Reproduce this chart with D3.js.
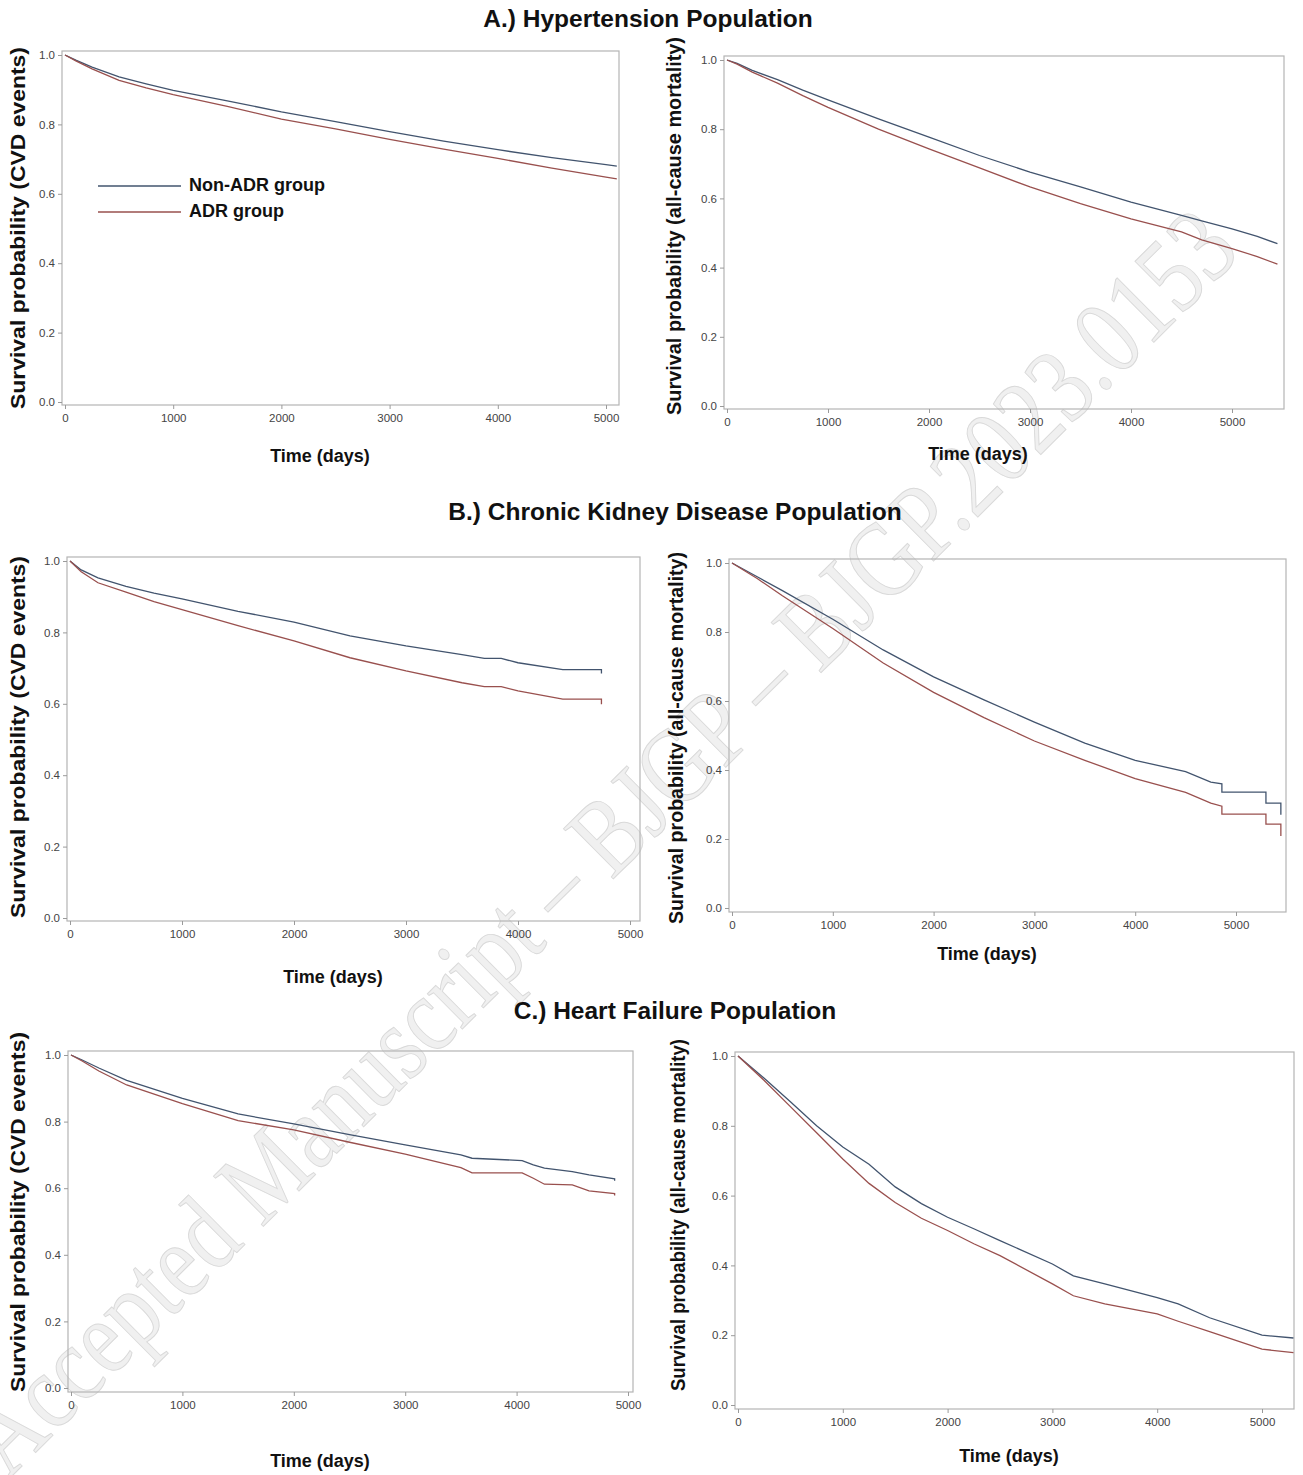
<!DOCTYPE html>
<html>
<head>
<meta charset="utf-8">
<script src="https://cdn.jsdelivr.net/npm/d3@7"></script>
<style>
  body { margin: 0; background: #fff; }
  svg { display: block; font-family: "Liberation Sans", Arial, sans-serif; }
</style>
</head>
<body>
<svg id="chart" width="1303" height="1475"></svg>
<script>
// Kaplan-Meier curves (days, survival probability)
const htnCvdDays = [0, 100, 250, 500, 750, 1000, 1500, 2000, 2500, 3000, 3500, 4000, 4500, 5000, 5100];
const htnCvdNonAdr = [1, 0.985, 0.965, 0.937, 0.917, 0.898, 0.868, 0.836, 0.808, 0.779, 0.752, 0.727, 0.704, 0.684, 0.680];
const htnCvdAdr = [1, 0.983, 0.960, 0.927, 0.905, 0.886, 0.852, 0.815, 0.787, 0.757, 0.729, 0.702, 0.674, 0.648, 0.643];

const htnMortDays = [0, 100, 250, 500, 750, 1000, 1500, 2000, 2500, 3000, 3500, 4000, 4500, 4700, 5000, 5250, 5450];
const htnMortNonAdr = [1, 0.990, 0.970, 0.943, 0.913, 0.885, 0.830, 0.777, 0.724, 0.676, 0.633, 0.589, 0.551, 0.535, 0.512, 0.490, 0.469];
const htnMortAdr = [1, 0.988, 0.965, 0.933, 0.897, 0.863, 0.800, 0.743, 0.688, 0.633, 0.585, 0.541, 0.503, 0.480, 0.455, 0.432, 0.410];

const ckdCvdDays = [0, 100, 250, 500, 750, 1000, 1500, 2000, 2500, 3000, 3500, 3700, 3850, 4000, 4400, 4745, 4745];
const ckdCvdNonAdr = [1, 0.975, 0.953, 0.929, 0.910, 0.894, 0.859, 0.829, 0.790, 0.762, 0.738, 0.727, 0.727, 0.715, 0.696, 0.696, 0.685];
const ckdCvdAdr = [1, 0.970, 0.939, 0.913, 0.886, 0.864, 0.819, 0.776, 0.729, 0.692, 0.659, 0.648, 0.648, 0.636, 0.613, 0.613, 0.599];

const ckdMortDays = [0, 250, 500, 1000, 1500, 2000, 2500, 3000, 3500, 4000, 4500, 4750, 4860, 4860, 5297, 5297, 5445, 5445];
const ckdMortNonAdr = [1, 0.960, 0.920, 0.837, 0.748, 0.670, 0.603, 0.539, 0.478, 0.428, 0.395, 0.365, 0.360, 0.336, 0.336, 0.304, 0.304, 0.270];
const ckdMortAdr = [1, 0.955, 0.905, 0.810, 0.710, 0.625, 0.552, 0.484, 0.428, 0.375, 0.335, 0.304, 0.295, 0.272, 0.272, 0.243, 0.243, 0.209];

const hfCvdDays = [0, 100, 250, 500, 1000, 1500, 2000, 2500, 3000, 3500, 3600, 4050, 4150, 4250, 4500, 4650, 4880, 4880];
const hfCvdNonAdr = [1, 0.985, 0.961, 0.924, 0.870, 0.823, 0.793, 0.761, 0.730, 0.700, 0.690, 0.683, 0.670, 0.660, 0.650, 0.640, 0.628, 0.622];
const hfCvdAdr = [1, 0.982, 0.952, 0.910, 0.854, 0.803, 0.775, 0.738, 0.702, 0.662, 0.646, 0.646, 0.630, 0.612, 0.610, 0.592, 0.584, 0.578];

const hfMortDays = [0, 250, 500, 750, 1000, 1250, 1500, 1750, 2000, 2250, 2500, 3000, 3200, 3500, 4000, 4200, 4500, 5000, 5300];
const hfMortNonAdr = [1, 0.936, 0.869, 0.800, 0.739, 0.690, 0.625, 0.577, 0.538, 0.505, 0.471, 0.404, 0.370, 0.347, 0.308, 0.290, 0.250, 0.200, 0.192];
const hfMortAdr = [1, 0.930, 0.855, 0.780, 0.705, 0.635, 0.580, 0.535, 0.500, 0.462, 0.428, 0.347, 0.313, 0.290, 0.261, 0.240, 0.210, 0.160, 0.150];

const xTicks = [0, 1000, 2000, 3000, 4000, 5000];
const yTicks = [0, 0.2, 0.4, 0.6, 0.8, 1.0];
const groupNames = ['Non-ADR group', 'ADR group'];
const groupColors = ['#42546e', '#99504e'];

const sectionTitles = [
  { text: 'A.) Hypertension Population', x: 648, y: 21 },
  { text: 'B.) Chronic Kidney Disease Population', x: 675, y: 514 },
  { text: 'C.) Heart Failure Population', x: 675, y: 1013 }
];

const cvdLabel = 'Survival probability (CVD events)';
const mortLabel = 'Survival probability (all-cause mortality)';

// layout of each panel: pixel for day 0 / day 5000, survival 1 / 0, frame box
const panels = [
  { days: htnCvdDays, non: htnCvdNonAdr, adr: htnCvdAdr, ylab: cvdLabel, ylabLen: 362, ylabY: 228,
    x0: 65, x5k: 606, y1: 55, y0: 402, frame: [62, 51, 619, 405], ylabX: 20, xlab: [320, 457], legend: true },
  { days: htnMortDays, non: htnMortNonAdr, adr: htnMortAdr, ylab: mortLabel, ylabLen: 378, ylabY: 226,
    x0: 727, x5k: 1232, y1: 60, y0: 406, frame: [724, 56, 1284, 409], ylabX: 676, xlab: [978, 455] },
  { days: ckdCvdDays, non: ckdCvdNonAdr, adr: ckdCvdAdr, ylab: cvdLabel, ylabLen: 362, ylabY: 737,
    x0: 70, x5k: 630, y1: 561, y0: 918, frame: [67, 557, 640, 921], ylabX: 20, xlab: [333, 978] },
  { days: ckdMortDays, non: ckdMortNonAdr, adr: ckdMortAdr, ylab: mortLabel, ylabLen: 372, ylabY: 738,
    x0: 732, x5k: 1236, y1: 563, y0: 908, frame: [729, 559, 1286, 912], ylabX: 678, xlab: [987, 955] },
  { days: hfCvdDays, non: hfCvdNonAdr, adr: hfCvdAdr, ylab: cvdLabel, ylabLen: 360, ylabY: 1212,
    x0: 71, x5k: 628, y1: 1055, y0: 1388, frame: [68, 1051, 633, 1392], ylabX: 20, xlab: [320, 1462] },
  { days: hfMortDays, non: hfMortNonAdr, adr: hfMortAdr, ylab: mortLabel, ylabLen: 352, ylabY: 1215,
    x0: 738, x5k: 1262, y1: 1056, y0: 1405, frame: [735, 1052, 1294, 1409], ylabX: 680, xlab: [1009, 1457] }
];

const svg = d3.select('#chart');

// watermark sits behind everything
svg.append('text')
  .attr('transform', 'translate(8,1480) rotate(-44.8)')
  .attr('font-family', '"Liberation Serif", "Times New Roman", serif')
  .attr('font-size', 108)
  .attr('textLength', 1740)
  .attr('lengthAdjust', 'spacingAndGlyphs')
  .attr('fill', '#f0f0f0')
  .attr('stroke', '#d9d9d9')
  .attr('stroke-width', 1)
  .text('Accepted Manuscript \u2013 BJGP \u2013 BJGP.2023.0153');

sectionTitles.forEach(t => {
  svg.append('text')
    .attr('x', t.x)
    .attr('y', t.y)
    .attr('text-anchor', 'middle')
    .attr('dominant-baseline', 'middle')
    .attr('font-size', 24.5)
    .attr('font-weight', 'bold')
    .attr('fill', '#111')
    .text(t.text);
});

panels.forEach(p => {
  const [fl, ft, fr, fb] = p.frame;
  const x = d3.scaleLinear().domain([0, 5000]).range([p.x0, p.x5k]);
  const y = d3.scaleLinear().domain([0, 1]).range([p.y0, p.y1]);
  const g = svg.append('g');

  g.append('rect')
    .attr('x', fl).attr('y', ft)
    .attr('width', fr - fl).attr('height', fb - ft)
    .attr('fill', 'none')
    .attr('stroke', '#b4b4b4')
    .attr('stroke-width', 1.2);

  const yAxis = g.append('g')
    .attr('transform', `translate(${fl},0)`)
    .call(d3.axisLeft(y).tickValues(yTicks).tickFormat(d3.format('.1f')).tickSize(4).tickPadding(3));
  const xAxis = g.append('g')
    .attr('transform', `translate(0,${fb})`)
    .call(d3.axisBottom(x).tickValues(xTicks).tickFormat(d3.format('d')).tickSize(4).tickPadding(5));
  [yAxis, xAxis].forEach(a => {
    a.select('.domain').remove();
    a.selectAll('line').attr('stroke', '#9a9a9a');
    a.selectAll('text').attr('font-size', 11.5).attr('fill', '#444');
  });

  const line = d3.line()
    .x(d => x(d[0]))
    .y(d => y(d[1]));

  [p.non, p.adr].forEach((vals, i) => {
    g.append('path')
      .datum(p.days.map((d, k) => [d, vals[k]]))
      .attr('d', line)
      .attr('fill', 'none')
      .attr('stroke', groupColors[i])
      .attr('stroke-width', 1.3);
  });

  g.append('text')
    .attr('transform', `translate(${p.ylabX},${p.ylabY}) rotate(-90)`)
    .attr('text-anchor', 'middle')
    .attr('dominant-baseline', 'middle')
    .attr('font-size', 20)
    .attr('font-weight', 'bold')
    .attr('textLength', p.ylabLen)
    .attr('lengthAdjust', 'spacingAndGlyphs')
    .attr('fill', '#111')
    .text(p.ylab);

  g.append('text')
    .attr('x', p.xlab[0])
    .attr('y', p.xlab[1])
    .attr('text-anchor', 'middle')
    .attr('dominant-baseline', 'middle')
    .attr('font-size', 18)
    .attr('font-weight', 'bold')
    .attr('fill', '#111')
    .text('Time (days)');

  if (p.legend) {
    groupNames.forEach((name, i) => {
      const ly = 186 + i * 26;
      g.append('line')
        .attr('x1', 98).attr('x2', 181)
        .attr('y1', ly).attr('y2', ly)
        .attr('stroke', groupColors[i])
        .attr('stroke-width', 1.3);
      g.append('text')
        .attr('x', 189).attr('y', ly)
        .attr('dominant-baseline', 'middle')
        .attr('font-size', 18)
        .attr('font-weight', 'bold')
        .attr('fill', '#111')
        .text(name);
    });
  }
});
</script>
</body>
</html>
